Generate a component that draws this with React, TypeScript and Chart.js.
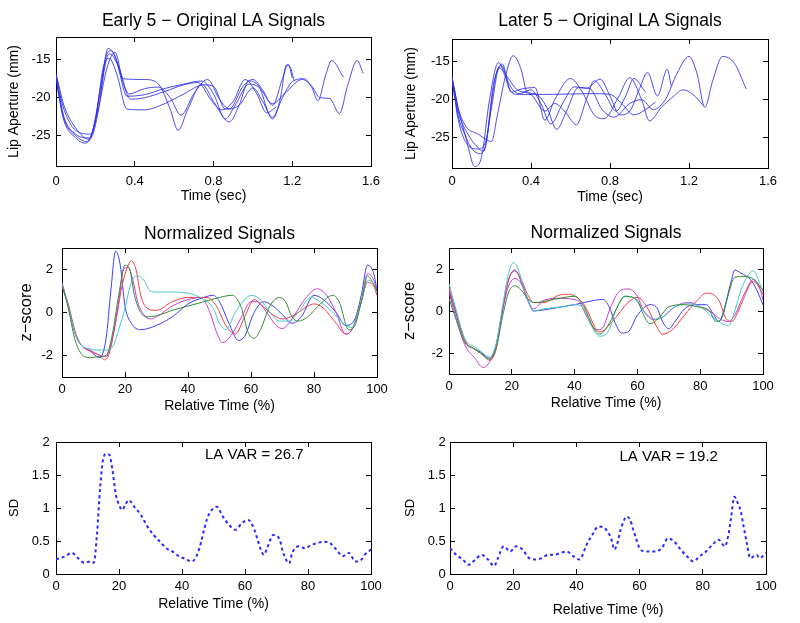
import React, { useEffect, useRef } from 'react';
import { Chart, registerables } from 'chart.js';

Chart.register(...registerables);

const FONT = '"Liberation Sans", Arial, Helvetica, sans-serif';
Chart.defaults.font.family = FONT;
Chart.defaults.color = '#000';

// ---------------- tick labels ----------------
const ORIG_X_TICKS = [0, 0.4, 0.8, 1.2, 1.6];
const ORIG_Y_TICKS = [-25, -20, -15];
const NORM_X_TICKS = [0, 20, 40, 60, 80, 100];
const NORM_Y_TICKS = [-2, 0, 2];
const SD_Y_TICKS = [0, 0.5, 1, 1.5, 2];

// ---------------- Early 5 original LA signals (time s, aperture mm) ----------------
const E1_T = [0, 0.02, 0.04, 0.1, 0.17, 0.22, 0.27, 0.31, 0.36, 0.45, 0.55, 0.65, 0.74, 0.8, 0.86, 0.91, 0.98, 1.03, 1.1, 1.16, 1.25, 1.3, 1.34, 1.39, 1.44, 1.48, 1.53, 1.56];
const E1_V = [-17, -20, -22.5, -24.8, -25.3, -20, -14.2, -15.5, -19.8, -19.6, -18.8, -18.2, -17.8, -19.5, -22.8, -21, -18.2, -18.6, -20.8, -19.5, -17.6, -18.5, -20, -20.1, -22.1, -18.5, -15.1, -16.8];
const E2_T = [0, 0.02, 0.04, 0.1, 0.15, 0.2, 0.24, 0.27, 0.31, 0.36, 0.45, 0.55, 0.65, 0.75, 0.8, 0.86, 0.93, 1.0, 1.05, 1.1, 1.15, 1.2, 1.26, 1.3, 1.33, 1.37, 1.4, 1.46];
const E2_V = [-17.5, -20.5, -23, -25.3, -26, -23, -16, -14.8, -17, -21.5, -21.6, -20.8, -19.5, -18.3, -18.5, -21.5, -21, -18.7, -20.5, -22.6, -20, -17.9, -17.5, -18.7, -20.4, -17, -15.1, -17.3];
const E3_T = [0, 0.02, 0.04, 0.1, 0.18, 0.23, 0.265, 0.3, 0.34, 0.45, 0.52, 0.58, 0.62, 0.67, 0.74, 0.8, 0.88, 0.93, 0.98, 1.03, 1.1, 1.14, 1.17, 1.19, 1.21];
const E3_V = [-17, -19.5, -21.5, -24.3, -24.8, -18, -13.5, -14.5, -17.5, -17.6, -18.2, -21.5, -24.3, -21.5, -18.2, -20.5, -23.2, -21, -17.8, -18.5, -22.8, -20, -15.7, -16, -17.8];
const E4_T = [0, 0.02, 0.04, 0.1, 0.17, 0.22, 0.25, 0.28, 0.32, 0.37, 0.45, 0.52, 0.58, 0.635, 0.7, 0.77, 0.83, 0.88, 0.95, 1.0, 1.05, 1.1, 1.15, 1.18, 1.2];
const E4_V = [-16.8, -19, -21, -24, -25.5, -21, -15, -13.8, -16, -19.5, -18.8, -18.6, -20, -22.3, -19.5, -17.6, -20.2, -21.5, -18.5, -17.6, -19, -21, -17.5, -15.6, -17.4];
const E5_T = [0, 0.02, 0.04, 0.1, 0.16, 0.21, 0.26, 0.3, 0.34, 0.38, 0.45, 0.55, 0.65, 0.72, 0.79, 0.84, 0.9, 0.96, 1.02, 1.07, 1.12];
const E5_V = [-17.2, -20.5, -22.8, -25, -25.8, -22, -16, -14, -18, -20.2, -20, -19.2, -18.3, -18, -20.4, -21.6, -20.5, -17.6, -19.5, -22, -21.2];

// ---------------- Later 5 original LA signals ----------------
const L1_T = [0, 0.015, 0.03, 0.07, 0.13, 0.2, 0.23, 0.27, 0.31, 0.35, 0.38, 0.42, 0.48, 0.53, 0.58, 0.64, 0.7, 0.76, 0.82, 0.9, 0.96, 1.02, 1.08, 1.14, 1.2, 1.24, 1.28, 1.32, 1.37, 1.43, 1.49];
const L1_V = [-17, -19, -21, -23.5, -24.5, -25.5, -22, -17, -14.2, -16, -19, -19.2, -21, -23.9, -21.5, -18.4, -18.6, -21.3, -22.3, -20.5, -20, -21.3, -20, -16.5, -14.3, -16.5, -21, -17.5, -14.3, -15.2, -18.6];
const L2_T = [0, 0.015, 0.03, 0.07, 0.115, 0.15, 0.19, 0.235, 0.27, 0.3, 0.35, 0.42, 0.47, 0.52, 0.6, 0.66, 0.72, 0.77, 0.84, 0.9, 0.96, 1.0, 1.06, 1.12, 1.17, 1.22, 1.27];
const L2_V = [-17.3, -19.5, -22, -25, -28.8, -27.5, -20, -15.1, -17, -19, -18.6, -18.4, -22.7, -20, -17.2, -19, -22, -22.5, -19.8, -17.1, -20, -22.8, -21, -19.6, -18.7, -19.3, -20.7];
const L3_T = [0, 0.015, 0.03, 0.08, 0.14, 0.17, 0.21, 0.25, 0.29, 0.34, 0.4, 0.45, 0.5, 0.56, 0.62, 0.68, 0.75, 0.8, 0.85, 0.9, 0.95, 0.99, 1.04, 1.09, 1.11];
const L3_V = [-17, -19, -21, -25.5, -27.1, -26, -18, -15.5, -18, -19.2, -18.7, -20.5, -23.2, -20.5, -18.3, -18.5, -17.3, -19.5, -22, -21.5, -18.5, -16.4, -19.5, -16, -18.2];
const L4_T = [0, 0.015, 0.03, 0.08, 0.13, 0.17, 0.22, 0.255, 0.29, 0.33, 0.5, 0.7, 0.8, 0.86, 0.92, 0.98, 1.03];
const L4_V = [-17.5, -20, -22.5, -26, -26.5, -25.6, -17, -15.3, -18.5, -19.3, -19.3, -19.2, -19.3, -20.5, -22, -21.3, -20.3];
const L5_T = [0, 0.015, 0.03, 0.08, 0.12, 0.16, 0.2, 0.24, 0.28, 0.33, 0.4, 0.47, 0.52, 0.57, 0.63, 0.68, 0.72, 0.78, 0.83, 0.88, 0.92, 0.98];
const L5_V = [-17.2, -19.5, -21.5, -24.5, -26, -26.8, -21, -15.8, -17, -18.7, -19.3, -21.5, -20.5, -21.5, -23.3, -20, -17.5, -19.5, -21.5, -19.5, -17.2, -19];

// ---------------- Normalized signals, early (relative time %, z-score) ----------------
const NE_BLUE_P = [0, 2, 4, 6, 9, 12, 14, 15.5, 17, 18.5, 20, 22, 25, 30, 35, 40, 45, 48, 50, 53, 56, 58, 61, 64, 67, 70, 73, 76, 80, 83, 87, 90, 93, 95, 97, 99, 100];
const NE_BLUE_V = [1.3, 0.3, -0.9, -1.5, -1.8, -2.1, -1.2, 1, 2.85, 2.2, 0.3, -0.5, -0.8, -0.6, -0.2, 0.4, 0.7, 0.8, 0.5, -0.5, -1.3, -1.1, 0, 0.5, 0.3, -0.1, -0.5, -0.2, 0.8, 0.6, 0, -0.6, -0.3, 0.8, 2.2, 1.8, 1.0];
const NE_RED_P = [0, 2, 4, 6, 9, 12, 13.5, 15, 17, 19, 21, 22, 23.5, 25, 27, 30, 35, 40, 46, 49, 52, 55, 58, 61, 63, 66, 70, 74, 78, 80, 83, 87, 90, 92, 95, 97, 99, 100];
const NE_RED_V = [1.2, 0.4, -0.8, -1.5, -1.8, -2.0, -2.2, -1.9, -0.5, 1.2, 2.2, 2.4, 2.0, 0.8, 0.2, 0.1, 0.5, 0.7, 0.7, 0.3, -0.6, -1.0, -0.2, 0.6, 0.4, 0, -0.3, -0.1, 0.3, 0.4, 0.2, -0.5, -1.0, -0.8, 0.5, 1.4, 1.2, 0.8];
const NE_GREEN_P = [0, 2, 4, 6, 9, 12, 14, 16, 18, 20, 21.5, 23, 25, 27, 30, 35, 40, 45, 50, 54, 57, 59, 61, 63, 66, 69, 71, 73, 75, 78, 82, 86, 88, 91, 93, 95, 97, 99, 100];
const NE_GREEN_V = [1.3, 0.2, -1.2, -1.9, -2.1, -2.05, -2.0, -1.0, 0.8, 2.2, 2.0, 0.8, 0.0, -0.2, -0.15, 0.1, 0.3, 0.5, 0.7, 0.8, 0.2, -0.9, -1.2, -0.8, 0.3, 0.7, 0.5, -0.2, -0.4, -0.2, 0.4, 0.8, 0.5, -0.8, -0.6, 0.5, 1.7, 1.3, 1.0];
const NE_CYAN_P = [0, 2, 4, 6, 9, 12, 14, 16, 18, 20, 22, 24, 26, 28, 30, 35, 40, 45, 48, 50, 52, 55, 58, 60, 63, 66, 69, 72, 75, 79, 82, 86, 90, 92, 95, 97, 99, 100];
const NE_CYAN_V = [1.3, 0.3, -0.9, -1.5, -1.7, -1.75, -1.75, -1.6, -0.8, 0.2, 1.4, 1.7, 1.5, 1.0, 0.95, 0.95, 0.9, 0.6, 0.2, -0.5, -0.8, 0.0, 0.6, 0.8, 0.6, 0.0, -0.4, -0.4, 0.0, 0.7, 0.5, 0.0, -0.6, -0.7, 0.5, 1.5, 1.3, 0.9];
const NE_MAG_P = [0, 2, 4, 6, 9, 12, 14, 16, 18, 19.5, 21, 22.5, 24, 26, 28, 30, 35, 40, 44, 47, 49, 51, 54, 57, 60, 62, 65, 68, 70, 73, 77, 81, 84, 87, 90, 92, 95, 97, 99, 100];
const NE_MAG_V = [1.4, 0.3, -0.9, -1.5, -1.75, -2.0, -2.05, -1.2, 0.5, 2.0, 2.1, 1.5, 0.5, -0.1, -0.3, -0.2, 0.3, 0.6, 0.7, 0.0, -0.9, -1.4, -1.0, -0.2, 0.5, 0.5, 0.0, -0.6, -0.75, -0.3, 0.6, 1.1, 0.8, 0.0, -1.0, -0.8, 0.5, 1.8, 1.5, 1.0];

// ---------------- Normalized signals, later ----------------
const NL_RED_P = [0, 2, 5, 8, 10, 13, 15, 17, 19, 21, 23, 25, 27, 30, 35, 38, 43, 47, 48, 52, 57, 60, 63, 66, 68, 71, 75, 79, 82, 86, 88, 90, 93, 96, 97, 100];
const NL_RED_V = [1.1, 0.1, -1.4, -1.8, -2.0, -2.35, -1.8, 0.0, 1.5, 1.9, 1.5, 0.8, 0.4, 0.4, 0.75, 0.8, 0.3, -0.9, -1.0, -0.5, 0.4, 0.65, 0.2, -0.7, -1.1, -0.9, -0.2, 0.5, 0.85, 0.5, -0.3, -0.5, 0.3, 1.3, 1.4, 0.8];
const NL_GREEN_P = [0, 2, 5, 8, 10, 13, 15, 17, 19, 21, 23, 25, 27, 30, 35, 40, 43, 46, 48, 51, 54, 56, 60, 62, 64, 67, 70, 75, 79, 83, 85, 87, 89, 91, 94, 97, 100];
const NL_GREEN_V = [0.6, -0.3, -1.5, -1.8, -2.0, -2.3, -1.8, -0.3, 0.9, 1.2, 1.0, 0.6, 0.4, 0.45, 0.6, 0.7, 0.2, -0.8, -1.1, -0.6, 0.3, 0.7, 0.5, -0.2, -0.6, -0.3, 0.2, 0.3, 0.2, 0.0, -0.5, -0.3, 0.8, 1.6, 1.65, 1.5, 1.0];
const NL_CYAN_P = [0, 2, 5, 8, 10, 13, 15, 17, 19, 20.5, 22, 24, 27, 30, 36, 40, 43, 45, 48, 51, 53, 56, 59, 62, 66, 69, 72, 77, 81, 84, 87, 89, 91, 93, 96, 97, 99, 100];
const NL_CYAN_V = [1.3, 0.2, -1.3, -1.7, -1.9, -2.2, -1.6, 0.2, 1.8, 2.3, 2.0, 1.0, 0.0, 0.1, 0.2, 0.3, 0.1, -0.6, -1.2, -0.9, 0.0, 0.7, 0.6, 0.0, -0.4, -0.2, 0.2, 0.35, 0.1, -0.3, -0.6, -0.7, 0.0, 1.0, 1.85, 1.9, 1.3, 0.9];
const NL_BLUE_P = [0, 2, 5, 8, 10, 13, 15, 17, 19, 21, 23, 25, 27, 30, 36, 40, 46, 49, 51, 53, 55, 57, 60, 64, 66, 68, 70, 72, 75, 78, 82, 84, 86, 88, 90, 91, 93, 96, 98, 100];
const NL_BLUE_V = [1.0, 0.0, -1.4, -1.8, -1.95, -2.25, -1.6, 0.0, 1.5, 1.95, 1.4, 0.6, 0.0, 0.05, 0.2, 0.3, 0.5, 0.55, 0.2, -0.6, -1.05, -1.0, -0.2, 0.3, 0.2, -0.5, -0.85, -0.5, 0.1, 0.3, 0.3, -0.1, -0.5, 0.3, 1.5, 1.95, 1.8, 1.5, 1.0, 0.3];
const NL_MAG_P = [0, 2, 5, 8, 11, 13, 15, 17, 19, 21, 23, 25, 27, 30, 35, 41, 44, 47, 49, 51, 54, 57, 60, 62, 65, 68, 71, 74, 77, 80, 84, 86, 89, 91, 94, 97, 99, 100];
const NL_MAG_V = [0.9, -0.2, -1.6, -2.2, -2.7, -2.4, -1.7, 0.0, 1.2, 1.55, 1.3, 0.5, 0.1, 0.5, 0.6, 0.5, -0.3, -0.9, -0.8, 0.0, 0.9, 1.05, 0.7, 0.0, -0.4, -0.3, 0.1, 0.35, 0.4, 0.2, -0.1, -0.35, -0.5, -0.2, 0.8, 1.5, 1.1, 0.5];

// ---------------- SD curves ----------------
const SD_EARLY_P = [0, 3, 5, 7, 9, 11, 12, 13, 14, 15, 16, 17, 18, 19, 20, 21, 22, 23, 25, 27, 29, 31, 33, 35, 37, 39, 41, 43, 44, 45, 46, 47, 48, 49, 51, 53, 55, 57, 59, 61, 63, 64, 65, 66, 67, 69, 71, 72, 73, 74, 75, 77, 79, 81, 83, 85, 87, 89, 91, 93, 95, 97, 98, 100];
const SD_EARLY_V = [0.22, 0.27, 0.32, 0.24, 0.17, 0.19, 0.17, 0.6, 1.3, 1.75, 1.82, 1.8, 1.55, 1.2, 1.05, 0.97, 1.05, 1.12, 1.01, 0.89, 0.72, 0.59, 0.49, 0.39, 0.34, 0.27, 0.23, 0.19, 0.22, 0.32, 0.47, 0.67, 0.84, 0.94, 1.02, 0.87, 0.74, 0.67, 0.77, 0.82, 0.67, 0.52, 0.37, 0.29, 0.39, 0.59, 0.52, 0.34, 0.22, 0.16, 0.32, 0.42, 0.39, 0.44, 0.47, 0.49, 0.47, 0.37, 0.27, 0.32, 0.19, 0.22, 0.29, 0.37];
const SD_LATER_P = [0, 2, 4, 6, 8, 10, 12, 14, 15, 17, 19, 21, 23, 25, 27, 29, 31, 33, 35, 37, 39, 41, 42, 43, 45, 47, 49, 51, 52, 53, 54, 56, 57, 58, 59, 60, 62, 65, 67, 69, 71, 73, 75, 77, 79, 81, 83, 85, 87, 88, 89, 90, 91, 92, 93, 94, 95, 97, 98, 100];
const SD_LATER_V = [0.39, 0.29, 0.22, 0.14, 0.22, 0.29, 0.22, 0.12, 0.22, 0.42, 0.34, 0.42, 0.37, 0.24, 0.22, 0.24, 0.29, 0.29, 0.32, 0.34, 0.27, 0.22, 0.29, 0.42, 0.59, 0.72, 0.69, 0.54, 0.37, 0.47, 0.67, 0.87, 0.82, 0.67, 0.52, 0.39, 0.34, 0.34, 0.39, 0.54, 0.49, 0.37, 0.27, 0.19, 0.27, 0.34, 0.44, 0.52, 0.42, 0.57, 0.87, 1.17, 1.08, 0.95, 0.7, 0.45, 0.24, 0.29, 0.24, 0.32];

const NOTE_EARLY = 'LA VAR = 26.7';
const NOTE_LATER = 'LA VAR = 19.2';

// ---------------- styles ----------------
const ORIG_BLUE = 'rgba(45,45,235,0.85)';
const C_BLUE = 'rgb(60,60,255)';
const C_RED = 'rgb(250,60,60)';
const C_GREEN = 'rgb(50,140,50)';
const C_CYAN = 'rgb(70,200,200)';
const C_MAG = 'rgb(200,60,210)';
const SD_BLUE = 'rgb(40,40,255)';

type Series = { x: number[]; y: number[]; color: string; dashed?: boolean; width?: number };

interface PanelCfg {
  left: number; top: number;
  yw: number; plotW: number; plotH: number; th: number; xh: number; pr: number;
  title?: string; titlePadB?: number;
  xTitle: string; yTitle: string; yTitleSize: number; yTitleLH: number;
  xMin: number; xMax: number; yMin: number; yMax: number;
  xTicks: number[]; yTicks: number[];
  xTickPad: number; yTickPad: number;
  series: Series[];
  note?: { text: string; x: number; y: number };
}

const pts = (xs: number[], ys: number[]) => xs.map((x, i) => ({ x, y: ys[i] }));

function Panel({ cfg }: { cfg: PanelCfg }) {
  const ref = useRef<HTMLCanvasElement | null>(null);
  const w = cfg.yw + cfg.plotW + cfg.pr;
  const h = cfg.th + cfg.plotH + cfg.xh;
  useEffect(() => {
    const canvas = ref.current;
    if (!canvas) return;
    const tickFont = { size: 13, lineHeight: '16px' };
    const inner = () => ({ display: true, drawOnChartArea: false, drawTicks: true, tickLength: -5, color: '#000', tickColor: '#000', lineWidth: 1 });
    const border = () => ({ display: true, color: '#000', width: 1 });
    const setTicks = (vals: number[]) => (s: any) => { s.ticks = vals.map((v) => ({ value: v })); };
    const notePlugin = {
      id: 'panelNote',
      afterDatasetsDraw(chart: any) {
        if (!cfg.note) return;
        const { ctx, scales } = chart;
        ctx.save();
        ctx.font = `15px ${FONT}`;
        ctx.fillStyle = '#000';
        ctx.textAlign = 'left';
        ctx.textBaseline = 'middle';
        ctx.fillText(cfg.note.text, scales.x.getPixelForValue(cfg.note.x), scales.y.getPixelForValue(cfg.note.y));
        ctx.restore();
      },
    };
    const chart = new Chart(canvas, {
      type: 'line',
      data: {
        datasets: cfg.series.map((s) => ({
          data: pts(s.x, s.y),
          xAxisID: 'x',
          yAxisID: 'y',
          borderColor: s.color,
          borderWidth: s.width ?? 1,
          borderDash: s.dashed ? [3, 3] : [],
          pointRadius: 0,
          fill: false,
          cubicInterpolationMode: 'monotone',
        })),
      },
      options: {
        animation: false,
        responsive: false,
        maintainAspectRatio: false,
        devicePixelRatio: 1,
        events: [],
        layout: { padding: { left: 0, right: cfg.pr, top: cfg.title ? 0 : cfg.th, bottom: 0 } },
        plugins: {
          legend: { display: false },
          tooltip: { enabled: false },
          title: cfg.title
            ? {
                display: true,
                text: cfg.title,
                fullSize: false,
                color: '#000',
                font: { size: 17.5, weight: 'normal', lineHeight: '20px' },
                padding: { top: 0, bottom: cfg.titlePadB ?? 5 },
              }
            : { display: false },
        },
        scales: {
          x: {
            type: 'linear', position: 'bottom', min: cfg.xMin, max: cfg.xMax,
            afterBuildTicks: setTicks(cfg.xTicks),
            afterFit: (s: any) => { s.height = cfg.xh; },
            grid: inner(), border: border(),
            ticks: { padding: cfg.xTickPad, font: tickFont, color: '#000', maxRotation: 0, autoSkip: false, callback: (v: any) => String(v) },
            title: { display: true, text: cfg.xTitle, color: '#000', font: { size: 14, lineHeight: '16px' }, padding: { top: 0, bottom: 4 } },
          },
          y: {
            type: 'linear', position: 'left', min: cfg.yMin, max: cfg.yMax,
            afterBuildTicks: setTicks(cfg.yTicks),
            afterFit: (s: any) => { s.width = cfg.yw; },
            grid: inner(), border: border(),
            ticks: { padding: cfg.yTickPad, font: tickFont, color: '#000', autoSkip: false, callback: (v: any) => String(v) },
            title: { display: true, text: cfg.yTitle, color: '#000', font: { size: cfg.yTitleSize, lineHeight: `${cfg.yTitleLH}px` }, padding: { top: 0, bottom: 0 } },
          },
          x2: {
            type: 'linear', position: 'top', min: cfg.xMin, max: cfg.xMax,
            afterBuildTicks: setTicks(cfg.xTicks),
            afterFit: (s: any) => { s.height = 0; },
            grid: inner(), border: border(),
            ticks: { display: false },
          },
          y2: {
            type: 'linear', position: 'right', min: cfg.yMin, max: cfg.yMax,
            afterBuildTicks: setTicks(cfg.yTicks),
            afterFit: (s: any) => { s.width = 0; },
            grid: inner(), border: border(),
            ticks: { display: false },
          },
        },
      } as any,
      plugins: [notePlugin],
    });
    return () => chart.destroy();
  }, [cfg]);
  return (
    <canvas
      ref={ref}
      width={w}
      height={h}
      style={{ position: 'absolute', left: cfg.left, top: cfg.top, width: w, height: h }}
    />
  );
}

const PR = 24;

const PANELS: PanelCfg[] = [
  {
    left: 6, top: 11, yw: 50, plotW: 315, plotH: 129, th: 26, titlePadB: 6, xh: 42, pr: PR,
    title: 'Early 5 \u2212 Original LA Signals', xTitle: 'Time (sec)', yTitle: 'Lip Aperture (mm)', yTitleSize: 14, yTitleLH: 16,
    xMin: 0, xMax: 1.6, yMin: -29, yMax: -12, xTicks: ORIG_X_TICKS, yTicks: ORIG_Y_TICKS, xTickPad: 12, yTickPad: 10.6,
    series: [
      { x: E1_T, y: E1_V, color: ORIG_BLUE }, { x: E2_T, y: E2_V, color: ORIG_BLUE }, { x: E3_T, y: E3_V, color: ORIG_BLUE },
      { x: E4_T, y: E4_V, color: ORIG_BLUE }, { x: E5_T, y: E5_V, color: ORIG_BLUE },
    ],
  },
  {
    left: 403, top: 11, yw: 49, plotW: 316, plotH: 129, th: 28, titlePadB: 8, xh: 41, pr: PR,
    title: 'Later 5 \u2212 Original LA Signals', xTitle: 'Time (sec)', yTitle: 'Lip Aperture (mm)', yTitleSize: 14, yTitleLH: 16,
    xMin: 0, xMax: 1.6, yMin: -29, yMax: -12, xTicks: ORIG_X_TICKS, yTicks: ORIG_Y_TICKS, xTickPad: 10.1, yTickPad: 7.3,
    series: [
      { x: L1_T, y: L1_V, color: ORIG_BLUE }, { x: L2_T, y: L2_V, color: ORIG_BLUE }, { x: L3_T, y: L3_V, color: ORIG_BLUE },
      { x: L4_T, y: L4_V, color: ORIG_BLUE }, { x: L5_T, y: L5_V, color: ORIG_BLUE },
    ],
  },
  {
    left: 16, top: 224, yw: 46, plotW: 315, plotH: 129, th: 24, titlePadB: 4, xh: 41, pr: PR,
    title: 'Normalized Signals', xTitle: 'Relative Time (%)', yTitle: 'z\u2212score', yTitleSize: 16.5, yTitleLH: 20,
    xMin: 0, xMax: 100, yMin: -3, yMax: 3, xTicks: NORM_X_TICKS, yTicks: NORM_Y_TICKS, xTickPad: 9.5, yTickPad: 14,
    series: [
      { x: NE_GREEN_P, y: NE_GREEN_V, color: C_GREEN }, { x: NE_CYAN_P, y: NE_CYAN_V, color: C_CYAN },
      { x: NE_MAG_P, y: NE_MAG_V, color: C_MAG }, { x: NE_RED_P, y: NE_RED_V, color: C_RED },
      { x: NE_BLUE_P, y: NE_BLUE_V, color: C_BLUE },
    ],
  },
  {
    left: 399, top: 223, yw: 50, plotW: 314, plotH: 126, th: 25, titlePadB: 5, xh: 41, pr: PR,
    title: 'Normalized Signals', xTitle: 'Relative Time (%)', yTitle: 'z\u2212score', yTitleSize: 16.5, yTitleLH: 20,
    xMin: 0, xMax: 100, yMin: -3, yMax: 3, xTicks: NORM_X_TICKS, yTicks: NORM_Y_TICKS, xTickPad: 9.4, yTickPad: 11,
    series: [
      { x: NL_GREEN_P, y: NL_GREEN_V, color: C_GREEN }, { x: NL_CYAN_P, y: NL_CYAN_V, color: C_CYAN },
      { x: NL_MAG_P, y: NL_MAG_V, color: C_MAG }, { x: NL_RED_P, y: NL_RED_V, color: C_RED },
      { x: NL_BLUE_P, y: NL_BLUE_V, color: C_BLUE },
    ],
  },
  {
    left: 6, top: 420, yw: 50, plotW: 315, plotH: 132, th: 22, xh: 42, pr: PR,
    xTitle: 'Relative Time (%)', yTitle: 'SD', yTitleSize: 13, yTitleLH: 16,
    xMin: 0, xMax: 100, yMin: 0, yMax: 2, xTicks: NORM_X_TICKS, yTicks: SD_Y_TICKS, xTickPad: 9.9, yTickPad: 11.3,
    series: [{ x: SD_EARLY_P, y: SD_EARLY_V, color: SD_BLUE, dashed: true, width: 2 }],
    note: { text: NOTE_EARLY, x: 47.3, y: 1.81 },
  },
  {
    left: 402, top: 420, yw: 48, plotW: 316, plotH: 132, th: 22, xh: 48, pr: PR,
    xTitle: 'Relative Time (%)', yTitle: 'SD', yTitleSize: 13, yTitleLH: 16,
    xMin: 0, xMax: 100, yMin: 0, yMax: 2, xTicks: NORM_X_TICKS, yTicks: SD_Y_TICKS, xTickPad: 9.4, yTickPad: 9.3,
    series: [{ x: SD_LATER_P, y: SD_LATER_V, color: SD_BLUE, dashed: true, width: 2 }],
    note: { text: NOTE_LATER, x: 53.6, y: 1.78 },
  },
];

export default function App() {
  return (
    <div style={{ position: 'absolute', left: 0, top: 0, width: 800, height: 623, background: '#fff', overflow: 'hidden' }}>
      {PANELS.map((p, i) => (
        <Panel key={i} cfg={p} />
      ))}
    </div>
  );
}
